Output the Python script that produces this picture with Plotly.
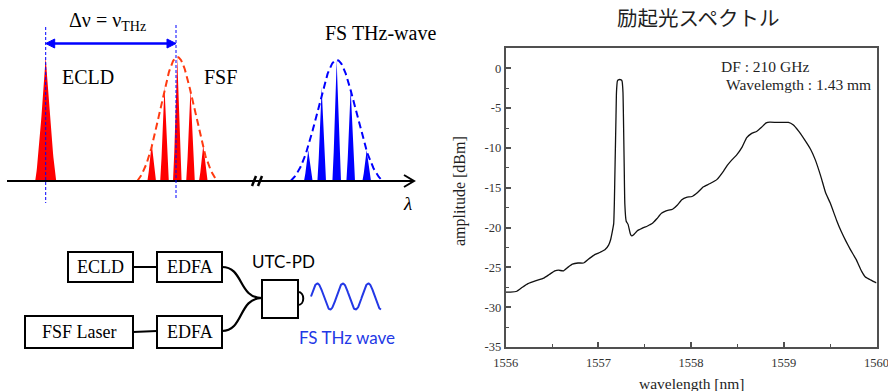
import numpy as np
import plotly.graph_objects as go

W, H = 888, 391

# ---------------- measured excitation spectrum ----------------
wavelength_nm = [
    1556.00, 1556.05, 1556.12, 1556.18, 1556.24, 1556.32, 1556.41, 1556.47,
    1556.53, 1556.57, 1556.62, 1556.67, 1556.72, 1556.78, 1556.84, 1556.90,
    1556.96, 1557.02, 1557.07, 1557.11, 1557.13, 1557.15, 1557.165, 1557.172,
    1557.18, 1557.19, 1557.195, 1557.205, 1557.215, 1557.245, 1557.255,
    1557.265, 1557.27, 1557.278, 1557.285, 1557.30, 1557.32, 1557.345,
    1557.36, 1557.38, 1557.42, 1557.47, 1557.53, 1557.58, 1557.63, 1557.68,
    1557.73, 1557.80, 1557.85, 1557.90, 1557.95, 1558.01, 1558.07, 1558.13,
    1558.20, 1558.28, 1558.35, 1558.39, 1558.44, 1558.49, 1558.55, 1558.60,
    1558.65, 1558.71, 1558.76, 1558.81, 1558.85, 1558.96, 1559.05, 1559.10,
    1559.16, 1559.22, 1559.29, 1559.34, 1559.40, 1559.45, 1559.50, 1559.57,
    1559.62, 1559.67, 1559.72, 1559.78, 1559.84, 1559.88, 1559.94, 1560.00,
]
amplitude_dbm = [
    -28.1, -28.1, -28.0, -27.5, -27.05, -26.7, -26.35, -25.9,
    -25.45, -25.35, -25.45, -25.0, -24.6, -24.45, -24.45, -23.9,
    -23.4, -23.1, -22.8, -22.2, -21.6, -20.5, -19.5, -17.0,
    -12.0, -6.0, -3.0, -1.6, -1.45, -1.45, -1.6,
    -3.0, -6.0, -12.0, -17.0, -19.2, -19.6, -20.8,
    -21.05, -20.9, -20.4, -20.1, -19.8, -19.5, -18.9, -18.2,
    -17.9, -17.7, -17.2, -16.5, -16.2, -16.1, -15.6, -14.9,
    -14.5, -13.95, -12.9, -12.2, -11.5, -10.9, -9.9, -8.7,
    -8.2, -7.9, -7.4, -6.85, -6.75, -6.8, -6.8, -7.1,
    -7.9, -8.9, -10.2, -11.5, -13.6, -15.6, -16.9, -19.1,
    -20.5, -21.7, -22.8, -24.0, -25.5, -26.2, -26.6, -26.95,
]

x_ticks = [1556, 1557, 1558, 1559, 1560]
y_ticks = [0, -5, -10, -15, -20, -25, -30, -35]
y_ticktext = ["0", "-5", "-10", "-15", "-20", "-25", "-30", "-35"]

# ---------------- schematic spectrum (diagram units) ----------------
baseline_y = 181
ecld_center, ecld_height = 45.7, 124
fsf_centers = [151.7, 164.5, 177.3, 190.5, 203.3]
fsf_heights = [38, 95, 124, 92, 36]
thz_centers = [308.3, 321.7, 336.7, 350.7, 366.7]
thz_heights = [31, 94, 121, 93, 31]

RED = "#FF0000"
RED_ENV = "#FF3A10"
BLUE = "#0000FF"
WAVE_BLUE = "#2338E6"
SERIF = "Liberation Serif, Times New Roman, serif"
SANS = "Lato, Noto Sans, sans-serif"

fig = go.Figure()

# spectrum trace
fig.add_trace(go.Scatter(
    x=wavelength_nm, y=amplitude_dbm, mode="lines",
    line=dict(color="#111111", width=1.3, shape="spline", smoothing=0.4),
    xaxis="x", yaxis="y", hoverinfo="skip", showlegend=False,
))


def peak_outline(c, h, hw, p=1.3):
    t = np.linspace(-1, 1, 61)
    xs = c + t * hw
    ys = baseline_y - h * (1 - np.abs(t)) ** p
    return xs, ys


def envelope(c, h, hw, sigma):
    xs = np.linspace(c - hw, c + hw, 161)
    g = np.exp(-((xs - c) ** 2) / (2 * sigma ** 2))
    g0 = np.exp(-(hw ** 2) / (2 * sigma ** 2))
    return xs, baseline_y - h * (g - g0) / (1 - g0)


def add_peak(c, h, hw, color, p=1.3):
    xs, ys = peak_outline(c, h, hw, p)
    fig.add_trace(go.Scatter(
        x=xs, y=ys, mode="lines", fill="toself", fillcolor=color,
        line=dict(width=0, color=color), xaxis="x2", yaxis="y2",
        hoverinfo="skip", showlegend=False,
    ))


add_peak(ecld_center, ecld_height, 10.5, RED, p=1.25)
for c, h in zip(fsf_centers, fsf_heights):
    add_peak(c, h, 4.3, RED, p=1.2)
for c, h in zip(thz_centers, thz_heights):
    add_peak(c, h, 4.3, BLUE, p=1.2)

ex, ey = envelope(177.3, 124, 40, 17)
fig.add_trace(go.Scatter(x=ex, y=ey, mode="lines",
                         line=dict(color=RED_ENV, width=2, dash="7px,4px"),
                         xaxis="x2", yaxis="y2", hoverinfo="skip", showlegend=False))
ex, ey = envelope(336.7, 121, 46, 19)
fig.add_trace(go.Scatter(x=ex, y=ey, mode="lines",
                         line=dict(color=BLUE, width=2, dash="7px,4px"),
                         xaxis="x2", yaxis="y2", hoverinfo="skip", showlegend=False))

# THz wave emitted from the photodiode
wx = np.linspace(311, 381, 200)
wy = 296.5 - 13 * np.sin(2 * np.pi * (wx - 311) / 25.5)
fig.add_trace(go.Scatter(x=wx, y=wy, mode="lines",
                         line=dict(color=WAVE_BLUE, width=2),
                         xaxis="x2", yaxis="y2", hoverinfo="skip", showlegend=False))

shapes = []
d = dict(xref="x2", yref="y2")

# frequency axis and break mark
shapes.append(dict(type="line", x0=7, y0=baseline_y, x1=413, y1=baseline_y,
                   line=dict(color="black", width=2), **d))
shapes.append(dict(type="path", path=f"M 404,{baseline_y-6} L 414,{baseline_y} L 404,{baseline_y+6}",
                   line=dict(color="black", width=2), **d))
for bx in (254, 260):
    shapes.append(dict(type="line", x0=bx - 2, y0=baseline_y + 5, x1=bx + 2, y1=baseline_y - 5,
                       line=dict(color="black", width=2.5), **d))

# marker lines for the beat frequency
shapes.append(dict(type="line", x0=45.7, y0=27, x1=45.7, y1=203,
                   line=dict(color=BLUE, width=1, dash="3px,2px"), **d))
shapes.append(dict(type="line", x0=176, y0=25, x1=176, y1=200,
                   line=dict(color=BLUE, width=1, dash="3px,2px"), **d))

# double-headed arrow between the two marker lines
arrow_y, a_left, a_right = 43.5, 45.7, 176
shapes.append(dict(type="line", x0=a_left + 6, y0=arrow_y, x1=a_right - 6, y1=arrow_y,
                   line=dict(color=BLUE, width=2.5), **d))
shapes.append(dict(type="path",
                   path=f"M {a_left},{arrow_y} L {a_left+9},{arrow_y-4.5} L {a_left+9},{arrow_y+4.5} Z",
                   fillcolor=BLUE, line=dict(color=BLUE, width=1), **d))
shapes.append(dict(type="path",
                   path=f"M {a_right},{arrow_y} L {a_right-9},{arrow_y-4.5} L {a_right-9},{arrow_y+4.5} Z",
                   fillcolor=BLUE, line=dict(color=BLUE, width=1), **d))

# block diagram
boxes = [(68, 252, 133, 282), (157, 252, 222, 282),
         (25, 316, 133, 348), (157, 316, 222, 348),
         (262, 280, 298, 318)]
for x0, y0, x1, y1 in boxes:
    shapes.append(dict(type="rect", x0=x0, y0=y0, x1=x1, y1=y1,
                       line=dict(color="black", width=2), fillcolor="white", **d))
shapes.append(dict(type="line", x0=133, y0=267, x1=157, y1=267, line=dict(color="black", width=2), **d))
shapes.append(dict(type="line", x0=133, y0=332, x1=157, y1=331, line=dict(color="black", width=2), **d))
shapes.append(dict(type="path", path="M 222,267 C 244,267 238,298 262,298",
                   line=dict(color="black", width=2.2), **d))
shapes.append(dict(type="path", path="M 222,331 C 244,331 238,298 262,298",
                   line=dict(color="black", width=2.2), **d))
shapes.append(dict(type="path", path="M 298,292 C 305,292 305,305 298,305",
                   line=dict(color="black", width=2), **d))

annotations = []


def label(text, x, y, size, font=SERIF, color="black", xanchor="center", **kw):
    annotations.append(dict(text=text, x=x, y=y, xref="x2", yref="y2", showarrow=False,
                            xanchor=xanchor, yanchor="middle",
                            font=dict(family=font, size=size, color=color), **kw))


label("Δν = ν<sub>THz</sub>", 107, 21, 20)
label("ECLD", 88, 77, 20)
label("FSF", 220, 77, 20)
label("FS THz-wave", 380, 33, 20)
label("<i>λ</i>", 407, 203, 19)
label("ECLD", 100.5, 267, 18)
label("EDFA", 189.5, 267, 18)
label("FSF Laser", 79, 332, 18)
label("EDFA", 189.5, 332, 18)
label("UTC-PD", 283, 261, 17, font=SANS)
label("FS THz wave", 347, 337, 17, font=SANS, color=WAVE_BLUE)


# right panel texts
def px(xp):
    return xp / W


def py(yp):
    return 1 - yp / H


def paper_text(text, x, y, size, family=SERIF, xanchor="center", **kw):
    annotations.append(dict(text=text, x=px(x), y=py(y), xref="paper", yref="paper",
                            showarrow=False, xanchor=xanchor, yanchor="middle",
                            font=dict(family=family, size=size, color="#1f1f1f"), **kw))


paper_text("励起光スペクトル", 698, 17, 20.5, family="Noto Sans CJK JP")
paper_text("DF : 210 GHz", 719, 66, 15.5, xanchor="left")
paper_text("Wavelemgth : 1.43 mm", 724, 84, 15.5, xanchor="left")
paper_text("wavelength [nm]", 691, 383, 15.5)
paper_text("amplitude [dBm]", 460, 191, 16, textangle=-90)

axis_line = dict(showline=True, linecolor="#505050", linewidth=2, mirror=True,
                 showgrid=False, zeroline=False, ticks="inside", tickcolor="#505050",
                 tickwidth=1.5, ticklen=5, automargin=False, ticklabeloverflow="allow",
                 tickfont=dict(family=SERIF, size=12.5, color="#333"))

fig.update_layout(
    width=W, height=H, margin=dict(l=0, r=0, t=0, b=0, pad=0, autoexpand=False),
    paper_bgcolor="white", plot_bgcolor="white", showlegend=False,
    xaxis=dict(domain=[505.7 / W, 876.5 / W], range=[1556, 1560], anchor="y",
               tickvals=x_ticks, ticktext=[str(v) for v in x_ticks],
               ticklabelstandoff=3,
               minor=dict(dtick=0.5, tick0=1556, ticks="inside", ticklen=3,
                          tickcolor="#505050", tickwidth=1.2),
               **axis_line),
    yaxis=dict(domain=[1 - 347 / H, 1 - 48 / H], range=[-35, 2.55], anchor="x",
               tickvals=y_ticks, ticktext=y_ticktext,
               minor=dict(dtick=2.5, tick0=0, ticks="inside", ticklen=3,
                          tickcolor="#505050", tickwidth=1.2),
               **axis_line),
    xaxis2=dict(domain=[0, 450 / W], range=[0, 450], anchor="y2", visible=False,
                fixedrange=True, automargin=False),
    yaxis2=dict(domain=[0, 1], range=[H, 0], anchor="x2", visible=False,
                fixedrange=True, automargin=False),
    shapes=shapes, annotations=annotations,
)

fig.write_html("out.html")
